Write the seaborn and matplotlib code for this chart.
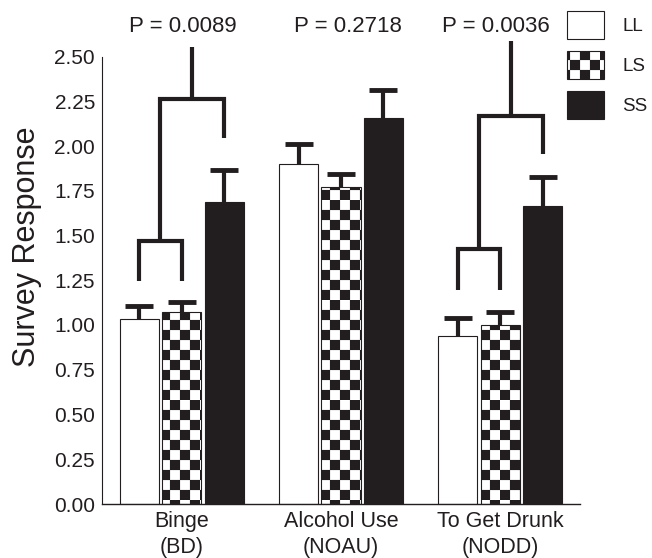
import warnings
import numpy as np
import pandas as pd
import matplotlib
matplotlib.use("Agg")
import matplotlib.pyplot as plt
import seaborn as sns
from matplotlib import hatch as mhatch
from matplotlib.path import Path
from matplotlib.patches import Patch

warnings.filterwarnings("ignore")

# Data
measures = ["Binge\n(BD)", "Alcohol Use\n(NOAU)", "To Get Drunk\n(NODD)"]
genotypes = ["LL", "LS", "SS"]
ll_mean = [1.033, 1.899, 0.939]
ls_mean = [1.072, 1.770, 1.000]
ss_mean = [1.687, 2.156, 1.665]
ll_sem = [0.072, 0.110, 0.100]
ls_sem = [0.055, 0.072, 0.070]
ss_sem = [0.178, 0.156, 0.161]
p_labels = ["P = 0.0089", "P = 0.2718", "P = 0.0036"]

# significance brackets (only for BD and NODD)
bracket_groups = [0, 2]
pair_y = [1.472, 1.425]
pair_leg_y = [1.246, 1.195]
ss_y = [2.263, 2.170]
ss_leg_y = [2.045, 1.955]
stem_top_y = [2.553, 2.587]

dark = "#221e1f"


# checkerboard hatch for the LS bars
class CheckerHatch(mhatch.HatchPatternBase):
    def __init__(self, hatch, density):
        self.n = hatch.count("c") * 10
        self.num_vertices = 5 * (self.n * self.n // 2)

    def set_vertices_and_codes(self, vertices, codes):
        n = self.n
        s = 1.0 / n
        k = 0
        for i in range(n):
            for j in range(n):
                if (i + j) % 2 == 0:
                    x, y = i * s, j * s
                    vertices[k:k + 5] = [[x, y], [x + s, y], [x + s, y + s], [x, y + s], [x, y]]
                    codes[k:k + 5] = [Path.MOVETO, Path.LINETO, Path.LINETO, Path.LINETO, Path.CLOSEPOLY]
                    k += 5


mhatch._hatch_types.append(CheckerHatch)

sns.set_style("white")
plt.rcParams["font.family"] = ["Liberation Sans", "DejaVu Sans"]
plt.rcParams["hatch.linewidth"] = 0.1
plt.rcParams["hatch.color"] = dark

df = pd.DataFrame({
    "measure": measures * 3,
    "genotype": [g for g in genotypes for _ in measures],
    "mean": ll_mean + ls_mean + ss_mean,
    "sem": ll_sem + ls_sem + ss_sem,
})

fig = plt.figure(figsize=(6.52, 5.58), dpi=100)
ax = fig.add_axes([102 / 652, 1 - 504 / 558, 478 / 652, 447.5 / 558])

sns.barplot(
    data=df, x="measure", y="mean", hue="genotype",
    order=measures, hue_order=genotypes,
    palette={"LL": "white", "LS": "white", "SS": dark},
    edgecolor=dark, linewidth=0.8, width=0.8, gap=0.08,
    errorbar=None, legend=False, ax=ax,
)

centers = {}
for cont, g in zip(ax.containers, genotypes):
    xs = []
    for bar in cont:
        if g == "LS":
            bar.set_hatch("c")
        xs.append(bar.get_x() + bar.get_width() / 2)
    centers[g] = xs
    sub = df[df.genotype == g].set_index("measure").loc[measures]
    _, caps, _ = ax.errorbar(xs, sub["mean"], yerr=[np.zeros(len(xs)), sub["sem"]],
                             fmt="none", ecolor=dark, elinewidth=3, capsize=10,
                             capthick=3.5, zorder=3)
    # keep only the upper caps
    for cap in caps:
        if np.allclose(cap.get_ydata(), sub["mean"].values):
            cap.set_visible(False)

# brackets
lk = dict(color=dark, lw=3, clip_on=False, solid_joinstyle="miter", solid_capstyle="butt")
for i, g in enumerate(bracket_groups):
    xl, xs_, xss = centers["LL"][g], centers["LS"][g], centers["SS"][g]
    ax.plot([xl, xl, xs_, xs_], [pair_leg_y[i], pair_y[i], pair_y[i], pair_leg_y[i]], **lk)
    m1 = (xl + xs_) / 2
    ax.plot([m1, m1, xss, xss], [pair_y[i], ss_y[i], ss_y[i], ss_leg_y[i]], **lk)
    m2 = (m1 + xss) / 2
    ax.plot([m2, m2], [ss_y[i], stem_top_y[i]], **lk)

# p-values
p_offsets = [0.006, 1.044, 1.97]
for x, t in zip(p_offsets, p_labels):
    ax.text(x, 2.668, t, ha="center", va="center", fontsize=16, color=dark, clip_on=False)

ax.set_xlim(-0.5, 2.5)
ax.set_ylim(0, 2.5)
ax.set_yticks(np.arange(0, 2.51, 0.25))
ax.set_yticklabels([f"{v:.2f}" for v in np.arange(0, 2.51, 0.25)], fontsize=15, color=dark)
ax.tick_params(axis="y", length=0, pad=5)
ax.tick_params(axis="x", which="major", length=0, pad=5, labelsize=15.5, labelcolor=dark)
for lab in ax.get_xticklabels():
    lab.set_linespacing(1.3)
ax.set_xticks([0.5, 1.5, 2.5], minor=True)
ax.tick_params(axis="x", which="minor", direction="in", length=8.5, width=0.9, color=dark)
ax.set_xlabel("")
ax.set_ylabel("Survey Response", fontsize=22, color=dark, va="center")
ax.yaxis.set_label_coords(-0.157, 0.574)
sns.despine(ax=ax)
ax.spines["left"].set_linewidth(0.8)
ax.spines["bottom"].set_linewidth(1.0)
ax.spines["left"].set_color(dark)
ax.spines["bottom"].set_color(dark)

handles = [
    Patch(facecolor="white", edgecolor=dark, linewidth=0.8),
    Patch(facecolor="white", edgecolor=dark, linewidth=0.8, hatch="c"),
    Patch(facecolor=dark, edgecolor=dark, linewidth=0.8),
]
fig.legend(handles, genotypes, loc="upper left", bbox_to_anchor=(567 / 652, 1 - 11 / 558),
           frameon=False, borderpad=0, borderaxespad=0, handlelength=1.95, handleheight=1.9,
           labelspacing=0.65, handletextpad=1.0, fontsize=13.5, labelcolor=dark)

fig.savefig("out.png", dpi=100)
